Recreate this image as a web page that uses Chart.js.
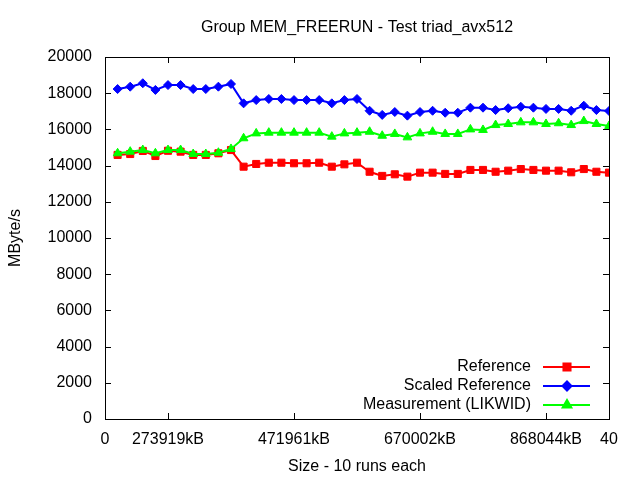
<!DOCTYPE html>
<html>
<head>
<meta charset="utf-8">
<script src="https://cdn.jsdelivr.net/npm/chart.js@4/dist/chart.umd.min.js"></script>
<style>
    body { margin: 0; background: #fff; }
    canvas { display: block; }
</style>
</head>
<body>
<canvas id="triad-chart" width="640" height="480"></canvas>
<script>
// run index on x axis (1..40)
const runs = [1, 2, 3, 4, 5, 6, 7, 8, 9, 10, 11, 12, 13, 14, 15, 16, 17, 18, 19, 20,
              21, 22, 23, 24, 25, 26, 27, 28, 29, 30, 31, 32, 33, 34, 35, 36, 37, 38, 39, 40];

const reference = [14590, 14640, 14810, 14530, 14820, 14770, 14590, 14590, 14680, 14860,
                   13940, 14090, 14160, 14160, 14130, 14130, 14160, 13940, 14070, 14160,
                   13660, 13430, 13520, 13390, 13610, 13610, 13540, 13540, 13760, 13760,
                   13660, 13720, 13810, 13760, 13720, 13720, 13630, 13810, 13660, 13610];

const scaled_reference = [18230, 18360, 18550, 18180, 18450, 18450, 18230, 18230, 18360, 18510,
                          17440, 17620, 17680, 17680, 17620, 17620, 17620, 17440, 17620, 17680,
                          17030, 16800, 16960, 16760, 16960, 17030, 16920, 16920, 17200, 17200,
                          17070, 17170, 17250, 17200, 17130, 17130, 17030, 17310, 17070, 17020];

const measurement = [14680, 14770, 14860, 14680, 14860, 14860, 14640, 14640, 14710, 14920,
                     15510, 15780, 15820, 15820, 15820, 15820, 15820, 15600, 15780, 15820,
                     15870, 15650, 15750, 15560, 15780, 15870, 15750, 15750, 16000, 15970,
                     16240, 16300, 16390, 16390, 16300, 16340, 16240, 16460, 16300, 16190];

const x_ticks = [0, 5, 15, 25, 35, 40];
const x_tick_labels = ['0', '273919kB', '471961kB', '670002kB', '868044kB', '40'];
const y_ticks = [0, 2000, 4000, 6000, 8000, 10000, 12000, 14000, 16000, 18000, 20000];

const chart_title = 'Group MEM_FREERUN - Test triad_avx512';

const FONT = 'Liberation Sans, Arial, sans-serif';
const FONT_SIZE = 16;

const toPoints = (vals) => runs.map((r, i) => ({ x: r, y: vals[i] }));

// gnuplot style frame, inward ticks, title and legend inside the plot
const gnuplotFrame = {
    id: 'gnuplotFrame',
    afterDatasetsDraw(chart) {
        const { ctx, chartArea: a, scales } = chart;
        const len = 6;
        ctx.save();
        ctx.strokeStyle = '#000';
        ctx.lineWidth = 1;
        ctx.beginPath();
        y_ticks.forEach(v => {
            const y = Math.round(scales.y.getPixelForValue(v)) + 0.5;
            if (v !== 0 && v !== 20000) {
                ctx.moveTo(a.left, y); ctx.lineTo(a.left + len, y);
                ctx.moveTo(a.right, y); ctx.lineTo(a.right - len, y);
            }
        });
        x_ticks.forEach(v => {
            const x = Math.round(scales.x.getPixelForValue(v)) + 0.5;
            if (v !== 0 && v !== 40) {
                ctx.moveTo(x, a.bottom); ctx.lineTo(x, a.bottom - len);
                ctx.moveTo(x, a.top); ctx.lineTo(x, a.top + len);
            }
        });
        ctx.stroke();
        ctx.strokeRect(Math.round(a.left) + 0.5, Math.round(a.top) + 0.5,
                       Math.round(a.right - a.left), Math.round(a.bottom - a.top));

        ctx.font = FONT_SIZE + 'px ' + FONT;
        ctx.fillStyle = '#000';
        ctx.textAlign = 'center';
        ctx.textBaseline = 'middle';
        ctx.fillText(chart_title, (a.left + a.right) / 2, 28);

        // legend
        ctx.textAlign = 'right';
        chart.data.datasets.forEach((ds, i) => {
            const y = 367 + i * 19;
            ctx.fillStyle = '#000';
            ctx.fillText(ds.label, 531, y);
            ctx.strokeStyle = ds.borderColor;
            ctx.lineWidth = 2;
            ctx.beginPath();
            ctx.moveTo(543, y); ctx.lineTo(590, y);
            ctx.stroke();
            Chart.helpers.drawPoint(ctx, {
                pointStyle: ds.pointStyle,
                radius: ds.pointRadius,
                borderWidth: 1
            }, 567, y);
            ctx.fillStyle = ds.borderColor;
            ctx.fill();
        });
        ctx.restore();
    }
};

(function () {
    const canvas = document.getElementById('triad-chart');

    const data = {
        datasets: [{
            label: 'Reference',
            data: toPoints(reference),
            borderColor: '#ff0000',
            backgroundColor: '#ff0000',
            pointStyle: 'rect',
            pointRadius: 5,
            borderWidth: 2,
            pointBorderWidth: 1,
            order: 3,
        }, {
            label: 'Scaled Reference',
            data: toPoints(scaled_reference),
            borderColor: '#0000ff',
            backgroundColor: '#0000ff',
            pointStyle: 'rectRot',
            pointRadius: 4.5,
            borderWidth: 2,
            pointBorderWidth: 1,
            order: 2,
        }, {
            label: 'Measurement (LIKWID)',
            data: toPoints(measurement),
            borderColor: '#00ff00',
            backgroundColor: '#00ff00',
            pointStyle: 'triangle',
            pointRadius: 5,
            borderWidth: 2,
            pointBorderWidth: 1,
            order: 1,
        }]
    };

    const config = {
        type: 'line',
        data: data,
        options: {
            responsive: false,
            animation: false,
            devicePixelRatio: 1,
            layout: { padding: { left: 0, right: 31, top: 57, bottom: 0 } },
            plugins: {
                legend: { display: false },
                tooltip: { enabled: false },
                title: { display: false },
            },
            scales: {
                x: {
                    type: 'linear',
                    min: 0,
                    max: 40,
                    grid: { display: false, drawTicks: false },
                    border: { display: false },
                    afterBuildTicks: (scale) => {
                        scale.ticks = x_ticks.map(v => ({ value: v }));
                    },
                    afterFit: (scale) => { scale.height = 61; },
                    ticks: {
                        color: '#000',
                        font: { family: FONT, size: FONT_SIZE },
                        padding: 11,
                        maxRotation: 0,
                        autoSkip: false,
                        callback: (v) => x_tick_labels[x_ticks.indexOf(v)],
                    },
                    title: {
                        display: true,
                        text: 'Size - 10 runs each',
                        color: '#000',
                        font: { family: FONT, size: FONT_SIZE },
                        padding: { top: 0, bottom: 4 },
                    },
                },
                y: {
                    min: 0,
                    max: 20000,
                    grid: { display: false, drawTicks: false },
                    border: { display: false },
                    afterBuildTicks: (scale) => {
                        scale.ticks = y_ticks.map(v => ({ value: v }));
                    },
                    afterFit: (scale) => { scale.width = 105; },
                    ticks: {
                        color: '#000',
                        font: { family: FONT, size: FONT_SIZE },
                        padding: 13,
                        callback: (v) => String(v),
                    },
                    title: {
                        display: true,
                        text: 'MByte/s',
                        color: '#000',
                        font: { family: FONT, size: FONT_SIZE },
                        padding: { top: 6, bottom: 0 },
                    },
                },
            },
        },
        plugins: [gnuplotFrame],
    };

    new Chart(canvas, config);
})();
</script>
</body>
</html>
